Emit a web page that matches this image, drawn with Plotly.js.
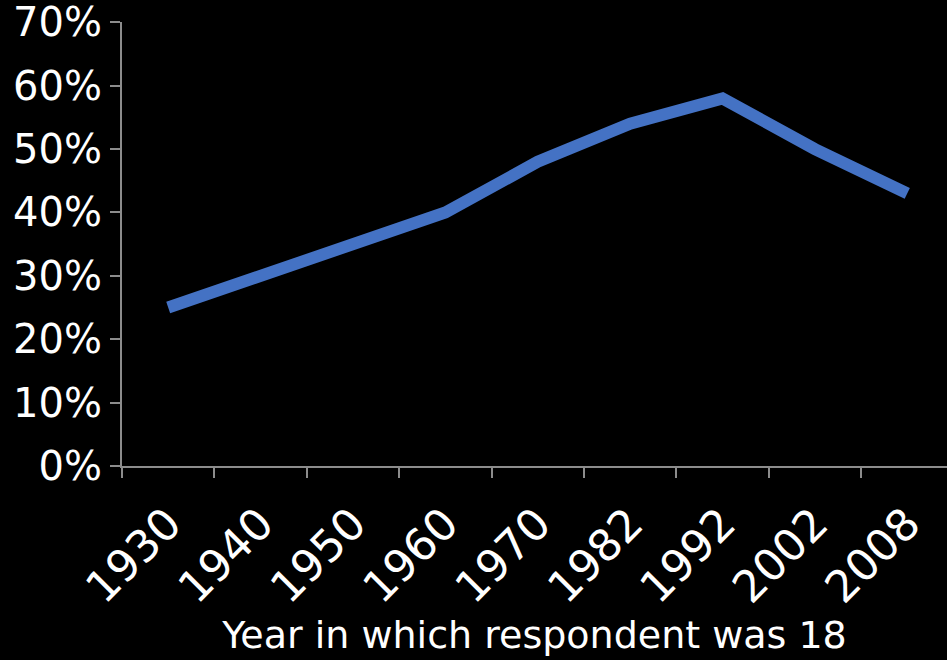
<!DOCTYPE html>
<html>
<head>
<meta charset="utf-8">
<script src="https://cdn.plot.ly/plotly-3.0.1.min.js"></script>
<style>html,body{margin:0;padding:0;background:#000;}</style>
</head>
<body>
<div id="chart" style="width:947px;height:660px;"></div>
<script>
const years = ["1930","1940","1950","1960","1970","1982","1992","2002","2008"];
const shares = [0.25, 0.30, 0.35, 0.40, 0.48, 0.54, 0.58, 0.50, 0.43];
const yTickVals = [0, 0.1, 0.2, 0.3, 0.4, 0.5, 0.6, 0.7];
const xTitle = "Year in which respondent was 18";

Plotly.newPlot("chart", [{
  type: "scatter",
  mode: "lines",
  x: years,
  y: shares,
  line: {color: "#4472C4", width: 12},
  hoverinfo: "skip"
}], {
  width: 947, height: 660,
  paper_bgcolor: "#000", plot_bgcolor: "#000",
  margin: {l: 122, r: 0, t: 22, b: 194},
  showlegend: false,
  font: {family: "DejaVu Sans, Verdana, sans-serif", color: "#fff"},
  xaxis: {
    type: "category",
    range: [-0.5, 8.43],
    tickson: "boundaries",
    ticks: "outside", ticklen: 10, tickwidth: 2, tickcolor: "#8c8c8c",
    showline: true, linecolor: "#8c8c8c", linewidth: 2,
    showgrid: false, zeroline: false,
    tickangle: -45,
    ticklabelstandoff: 12,
    tickfont: {size: 44, color: "#fff"},
    title: {text: xTitle, font: {size: 38, color: "#fff", family: "DejaVu Sans, sans-serif"}, standoff: 6},
    automargin: false
  },
  yaxis: {
    range: [0, 0.7005],
    tickvals: yTickVals,
    tickformat: ".0%",
    ticklabeloverflow: "allow",
    ticks: "outside", ticklen: 10, tickwidth: 2, tickcolor: "#8c8c8c",
    showline: true, linecolor: "#8c8c8c", linewidth: 2,
    showgrid: false, zeroline: false,
    tickfont: {size: 40, color: "#fff"},
    automargin: false
  }
}, {staticPlot: true});
</script>
</body>
</html>
